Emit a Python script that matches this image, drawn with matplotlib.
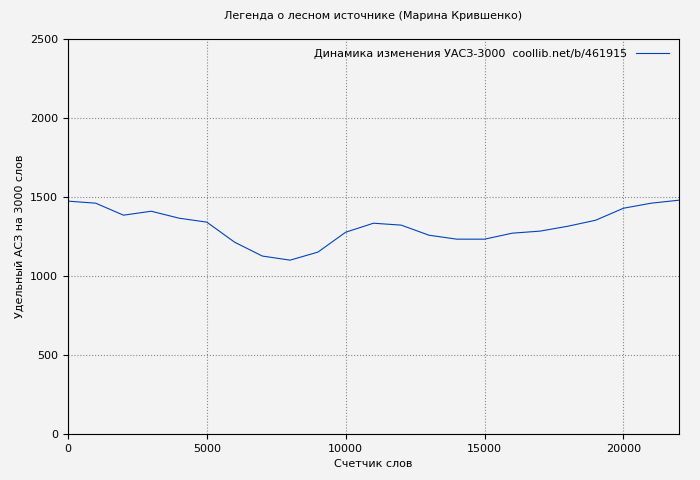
import matplotlib
matplotlib.use('Agg')
import matplotlib.pyplot as plt

words = list(range(0, 22001, 1000))
uasz = [1475, 1462, 1386, 1411, 1367, 1342, 1215, 1127, 1101, 1152, 1278, 1335,
        1323, 1259, 1234, 1234, 1272, 1285, 1316, 1354, 1430, 1462, 1481]

plt.rcParams['font.size'] = 8
fig = plt.figure(figsize=(7, 4.8), dpi=100, facecolor='#f3f3f3')
ax = fig.add_axes([0.097, 0.096, 0.873, 0.822], facecolor='#f3f3f3')
ax.plot(words, uasz, color='#0044bb', linewidth=0.8,
        label='Динамика изменения УАСЗ-3000  coollib.net/b/461915')
ax.set_xlim(0, 22000)
ax.set_ylim(0, 2500)
ax.set_xticks([0, 5000, 10000, 15000, 20000])
ax.set_yticks([0, 500, 1000, 1500, 2000, 2500])
ax.grid(True, linestyle=':', color='#888888', linewidth=0.8)
ax.set_xlabel('Счетчик слов')
ax.set_ylabel('Удельный АСЗ на 3000 слов')
ax.set_title('Легенда о лесном источнике (Марина Крившенко)', fontsize=8, pad=15)
ax.legend(loc='upper right', frameon=False, markerfirst=False, handlelength=3)
fig.savefig('out.png', dpi=100, facecolor='#f3f3f3')
